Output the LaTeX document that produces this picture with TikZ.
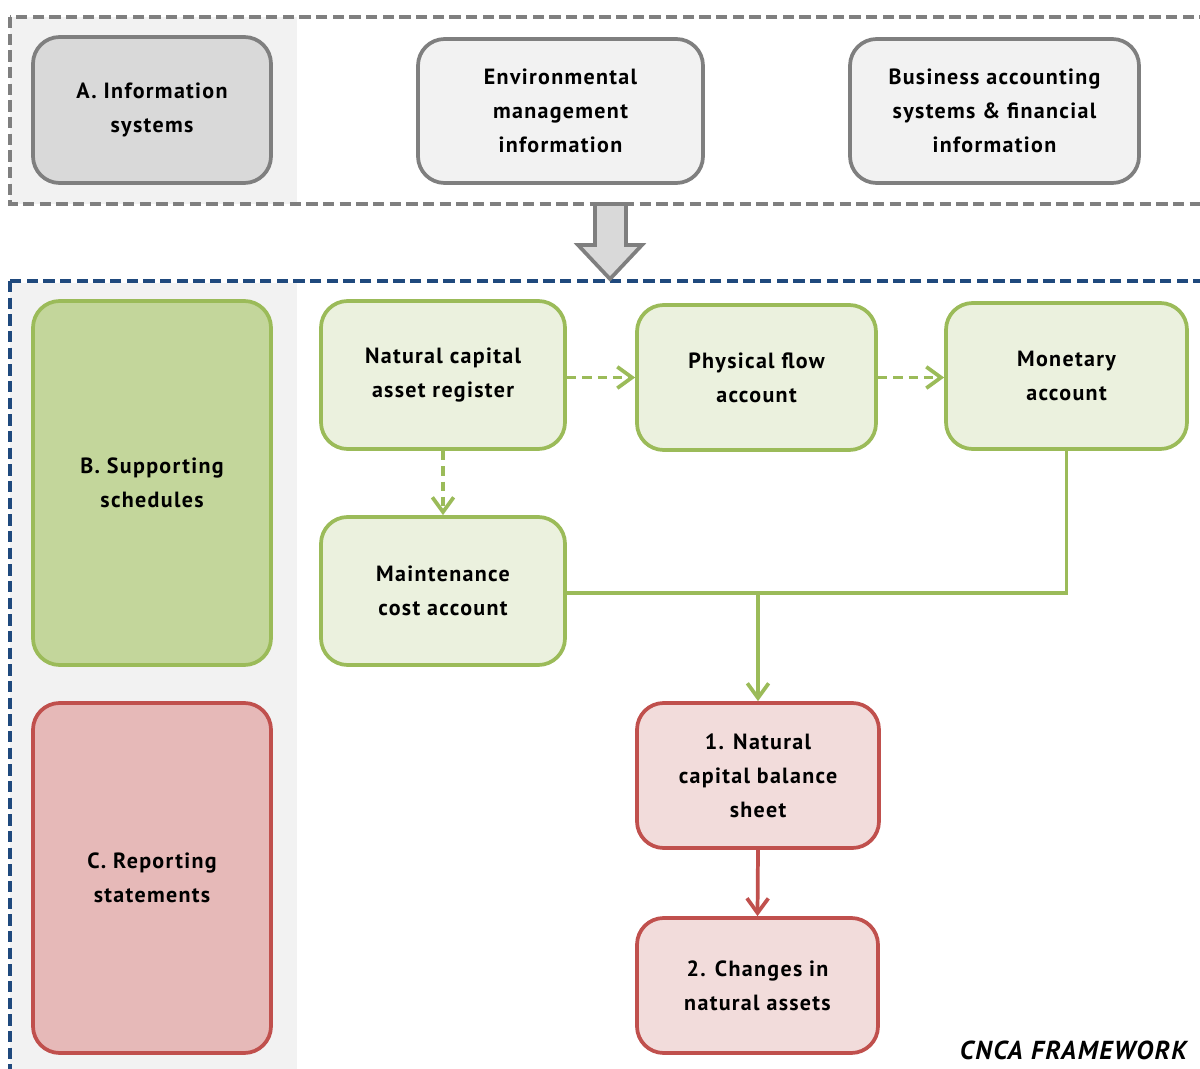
\documentclass[tikz,border=0pt]{standalone}
\usepackage{fontspec}
\setmainfont{PT Sans}[LetterSpace=6]
\usetikzlibrary{arrows.meta}
\definecolor{lingray}{HTML}{7F7F7F}
\definecolor{panelgray}{HTML}{F2F2F2}
\definecolor{midgray}{HTML}{D9D9D9}
\definecolor{lingreen}{HTML}{9BBB59}
\definecolor{midgreen}{HTML}{C3D69B}
\definecolor{palegreen}{HTML}{EBF1DE}
\definecolor{linred}{HTML}{C0504D}
\definecolor{midred}{HTML}{E6B9B8}
\definecolor{palered}{HTML}{F2DCDB}
\definecolor{linblue}{HTML}{1F497D}

\begin{document}
\begin{tikzpicture}[x=0.75pt,y=-0.75pt,
  box/.style={rectangle,rounded corners=20pt,line width=2.8pt,inner sep=0pt,
    align=center,font=\bfseries\fontsize{16.5}{25.5}\selectfont},
  infobox/.style={box,draw=lingray,fill=panelgray},
  greenbox/.style={box,draw=lingreen,fill=palegreen},
  redbox/.style={box,draw=linred,fill=palered},
  flow/.style={draw=lingreen,line width=2.8pt,-{Straight Barb[length=11pt,width=16pt]}},
  dflow/.style={flow,dash pattern=on 7pt off 4.5pt}]
\useasboundingbox (0,0) rectangle (1200,1069);
\clip (0,0) rectangle (1200,1069);
\fill[panelgray] (10,17) rectangle (297,204);
\fill[panelgray] (10,283) rectangle (297,1069);
\draw[lingray,line width=2.6pt,dash pattern=on 8.5pt off 4pt] (10,17) rectangle (1215,204);
\draw[linblue,line width=2.6pt,dash pattern=on 8.5pt off 4pt] (10,281) rectangle (1215,1090);
\node[infobox,fill=midgray,minimum width=178.5pt,minimum height=109.5pt] (info) at (152,110) {A. Information\\systems};
\node[infobox,minimum width=213.75pt,minimum height=108pt] (envinfo) at (560.5,111) {Environmental\\management\\information};
\node[infobox,minimum width=216.75pt,minimum height=108pt] (businfo) at (994.5,111) {Business accounting\\systems \& financial\\information};
\draw[lingray,fill=midgray,line width=2.8pt,line join=miter] (595,204) -- (626,204) -- (626,245) -- (642,245) -- (610,279) -- (578,245) -- (595,245) -- cycle;
\node[greenbox,fill=midgreen,minimum width=178.5pt,minimum height=273pt] (schedules) at (152,483) {B. Supporting\\schedules};
\node[redbox,fill=midred,minimum width=178.5pt,minimum height=262.5pt] (reporting) at (152,878) {C. Reporting\\statements};
\node[greenbox,minimum width=183pt,minimum height=111pt] (register) at (443,375) {Natural capital\\asset register};
\node[greenbox,minimum width=179.25pt,minimum height=108.75pt] (physical) at (756.5,377.5) {Physical flow\\account};
\node[greenbox,minimum width=180.75pt,minimum height=109.5pt] (monetary) at (1066.5,376) {Monetary\\account};
\node[greenbox,minimum width=183pt,minimum height=111pt] (maintenance) at (443,591) {Maintenance\\cost account};
\node[redbox,minimum width=181.5pt,minimum height=108.75pt] (balance) at (758,775.5) {1. Natural\\capital balance\\sheet};
\node[redbox,minimum width=180.75pt,minimum height=101.25pt] (changes) at (757.5,985.5) {2. Changes in\\natural assets};
\node[anchor=east,inner sep=0pt,font=\bfseries\itshape\fontsize{19.5}{22}\selectfont] (cnca) at (1187,1050) {CNCA FRAMEWORK};
\coordinate (join) at (758,593);
\draw[dflow] (register.east |- physical.west) -- (physical.west);
\draw[dflow] (physical.east) -- (monetary.west |- physical.east);
\draw[dflow] (register.south) -- (maintenance.north);
\draw[draw=lingreen,line width=2.8pt] (monetary.south) -- (monetary.south |- join) -- (maintenance.east |- join);
\draw[flow] (join) -- (balance.north);
\draw[flow,draw=linred] (balance.south) -- (changes.north);
\end{tikzpicture}
\end{document}
